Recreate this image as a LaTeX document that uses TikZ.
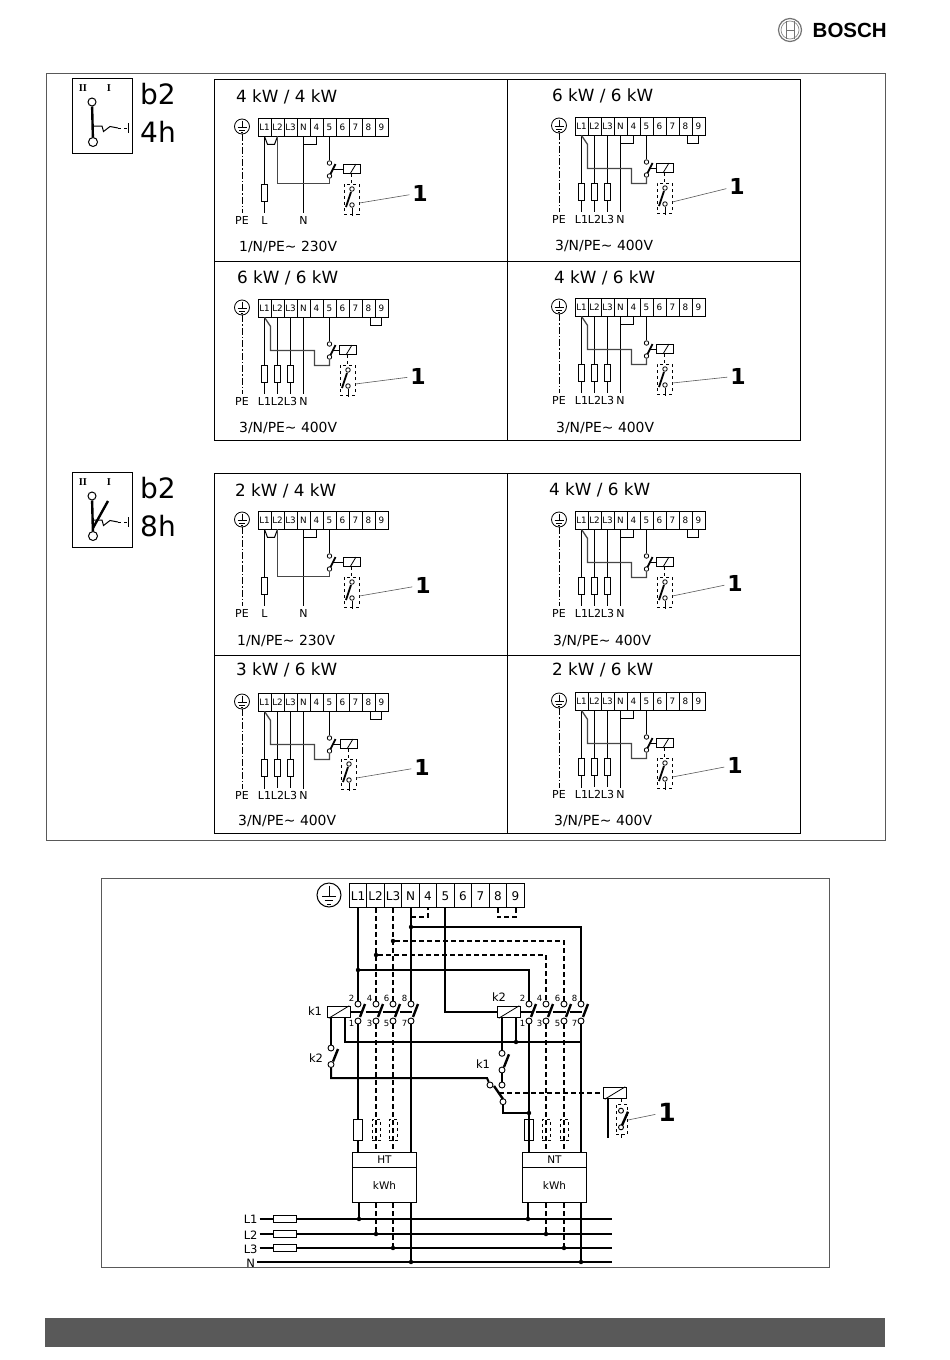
\documentclass[tikz,border=0pt]{standalone}
\usepackage{fontspec}
\setmainfont{DejaVu Sans}
\newfontfamily\logofont{Liberation Sans}
\newfontfamily\iconfont{Liberation Serif}
\usetikzlibrary{positioning}
\tikzset{wire/.style={line width=1pt,draw=black}}
\tikzset{feed/.style={line width=1.3pt,draw=black!72}}
\tikzset{blade/.style={line width=1.8pt,draw=black}}
\tikzset{leader/.style={line width=0.6pt,draw=black!65}}
\tikzset{frame/.style={line width=1pt,draw=black!65}}
\tikzset{earth/.style={circle,draw=black,fill=white,line width=0.8pt,inner sep=0pt,minimum size=15pt}}
\tikzset{terminal/.style={rectangle,draw=black,fill=white,line width=0.8pt,inner sep=0pt,text height=6.4pt,text depth=0pt,
minimum width=13pt,minimum height=18pt,font=\fontsize{8.8}{9}\selectfont}}
\tikzset{fuse/.style={rectangle,draw=black,fill=white,line width=0.8pt,inner sep=0pt,minimum width=6pt,minimum height=17pt}}
\tikzset{contact/.style={circle,draw=black,fill=white,line width=0.8pt,inner sep=0pt,minimum size=4.5pt}}
\tikzset{coil/.style={rectangle,draw=black,fill=white,line width=1pt,inner sep=0pt,minimum width=17pt,minimum height=9pt}}
\tikzset{switchbox/.style={rectangle,draw=black,dashed,line width=0.8pt,inner sep=0pt,minimum width=15pt,minimum height=30pt}}
\tikzset{dotnode/.style={circle,fill=black,inner sep=0pt,minimum size=4.4pt}}
\tikzset{tag/.style={inner sep=1pt,outer sep=2pt,font=\fontsize{11}{12}\selectfont}}
\tikzset{bigone/.style={inner sep=2pt,outer sep=1pt,font=\bfseries\fontsize{22}{24}\selectfont}}
\tikzset{paneltitle/.style={anchor=west,inner sep=0pt,font=\fontsize{16.8}{18}\selectfont}}
\tikzset{supply/.style={anchor=west,inner sep=0pt,font=\fontsize{13.9}{16}\selectfont}}
\tikzset{bigtext/.style={anchor=base west,inner sep=0pt,font=\fontsize{28}{30}\selectfont}}
\tikzset{pole/.style={inner sep=0pt,font=\iconfont\bfseries\fontsize{10.5}{11}\selectfont}}
\tikzset{bigwire/.style={line width=2pt,draw=black}}
\tikzset{dashwire/.style={line width=2pt,draw=black,dash pattern=on 5pt off 3pt}}
\tikzset{actionline/.style={line width=1.8pt,draw=black,dash pattern=on 10.7pt off 4pt on 12.6pt off 4pt on 13.3pt off 4pt on 12pt off 10pt}}
\tikzset{bigterminal/.style={rectangle,draw=black,fill=white,line width=0.8pt,inner sep=0pt,text height=8.8pt,text depth=0pt,
minimum width=17.5pt,minimum height=23.5pt,font=\fontsize{12}{13}\selectfont}}
\tikzset{bigcontact/.style={circle,draw=black,fill=white,line width=0.9pt,inner sep=0pt,minimum size=6pt}}
\tikzset{bigcoil/.style={rectangle,draw=black,fill=white,line width=0.9pt,inner sep=0pt,minimum width=23.5pt,minimum height=11.5pt}}
\tikzset{metfuse/.style={rectangle,draw=black,fill=white,line width=0.8pt,inner sep=0pt,minimum width=8.4pt,minimum height=21.5pt}}
\tikzset{metfusedash/.style={rectangle,draw=black,dashed,line width=0.7pt,inner sep=0pt,minimum width=8pt,minimum height=21.5pt}}
\tikzset{metfuseon/.style={rectangle,draw=black,line width=0.8pt,inner sep=0pt,minimum width=8.4pt,minimum height=21.5pt}}
\tikzset{busfuse/.style={rectangle,draw=black,fill=white,line width=0.8pt,inner sep=0pt,minimum width=23.4pt,minimum height=7.6pt}}
\tikzset{meterhead/.style={rectangle,draw=black,fill=white,line width=0.9pt,inner sep=0pt,minimum width=64.4pt,minimum height=15pt,font=\fontsize{10.5}{11}\selectfont}}
\tikzset{meterbody/.style={rectangle,draw=black,fill=white,line width=0.9pt,inner sep=0pt,minimum width=64.4pt,minimum height=35pt,font=\fontsize{10.5}{11}\selectfont}}
\tikzset{relaytag/.style={inner sep=0pt,font=\fontsize{11.5}{12}\selectfont}}
\tikzset{pin/.style={inner sep=0pt,font=\fontsize{8.5}{9}\selectfont}}
\tikzset{bustag/.style={inner sep=0pt,outer sep=2pt,font=\fontsize{11.5}{12}\selectfont}}

\newcommand\earthmark[2]{\begin{scope}[shift={(#1.center)},scale=#2]
\draw[line width=0.8pt] (0,-6) -- (0,1);
\draw[line width=0.8pt] (-4.5,1) -- (4.5,1) (-2.8,3.5) -- (2.8,3.5) (-1.2,6) -- (1.2,6);
\end{scope}}

\newcommand\panelbase[4]{%
\foreach \lab [count=\i] in {L1,L2,L3,N,4,5,6,7,8,9} \node[terminal] (#1t\i) at (\i*13-6.5,9) {\lab};
\node[earth] (#1pe) at (-16,8.5) {};
\earthmark{#1pe}{1}
\node[tag] (#1petag) at (-16,102.5) {PE};
\draw[line width=0.8pt,dash pattern=on 7pt off 2pt on 1.5pt off 2pt] (#1pe) -- (#1petag);
\node[contact] (#1ct) at (71.5,45) {};
\node[contact] (#1cb) at (71.5,58) {};
\draw[wire] (#1t6) -- (#1ct);
\draw[blade] ([xshift=1pt,yshift=2pt]#1cb.center) -- ([xshift=6pt,yshift=-1pt]#1ct.center);
\node[coil] (#1relay) at (#2,51) {};
\draw[wire,line width=0.8pt] ([xshift=-2pt]#1relay.south) -- ([xshift=4pt]#1relay.north);
\coordinate (#1arm) at (75,51);
\draw[wire] (#1arm) -- (#1relay);
\node[switchbox] (#1box) at (#2-0.5,81) {};
\node[contact] (#1cu) at (#2,71) {};
\node[contact] (#1cl) at (#2,87) {};
\draw[wire,dashed] (#1box.north |- #1relay.south) -- (#1box.north);
\draw[blade] ([xshift=-6pt,yshift=-2pt]#1cl.center) -- ([xshift=-1pt,yshift=-3pt]#1cu.center);
\draw[wire] (#1cl) -- ++(0,11);
\node[bigone] (#1one) at (#3,#4) {1};
\draw[leader] ([yshift=-4pt]#1box.east) -- (#1one);
}

\newcommand\onephase[6]{\begin{scope}[shift={(#2,#3)}]
\panelbase{#1}{#4}{#5}{#6}
\node[fuse] (#1fuse) at (6.5,75) {};
\node[tag] (#1ltag) at (6.5,102.5) {L};
\node[tag] (#1ntag) at (45.5,102.5) {N};
\draw[wire] (#1t1) -- (#1fuse) -- (#1ltag);
\draw[wire] (#1t4) -- (#1ntag);
\draw[wire] (#1t1.south) -- ++(3,8) -- ++(7,0) -- (#1t2.south);
\draw[feed] (#1t2.south) -- ++(0,47) -| (#1cb);
\end{scope}}

\newcommand\threephase[6]{\begin{scope}[shift={(#2,#3)}]
\panelbase{#1}{#4}{#5}{#6}
\foreach \tname/\col [count=\i] in {L1/6.5,L2/19.5,L3/32.5} {
\node[fuse] (#1f\i) at (\col,75) {};
\node[tag] (#1tag\i) at (\col,102.5) {\tname};
\draw[wire] (#1t\i) -- (#1f\i) -- (#1tag\i);
}
\node[tag] (#1ntag) at (45.5,102.5) {N};
\draw[wire] (#1t4) -- (#1ntag);
\draw[feed] (#1t1.south) -- ++(6,9) -- ++(0,24) -- ++(44,0) -- ++(0,15) -| (#1cb);
\end{scope}}

\newcommand\bridgeNfour[1]{\draw[wire] (#1t4.south) -- ++(0,8) -| (#1t5.south);}
\newcommand\bridgeeightnine[1]{\draw[wire] ([xshift=2pt]#1t9.south) -- ++(0,8) -| (#1t10.south);}

\newcommand\paneltable[2]{
\draw[wire] (214,#1) rectangle (800,#2);
\draw[wire] (507,#1) -- (507,#2);
}

\newcommand\switchicon[4]{\begin{scope}[shift={(#2,#3)}]
\node[draw,rectangle,line width=0.9pt,inner sep=0pt,minimum width=60pt,minimum height=75pt] (#1icon) at (30,37.5) {};
\node[pole] (#1two) at (11,10) {II};
\node[pole] (#1uno) at (37,10) {I};
\node[contact,minimum size=8pt,line width=1pt] (#1ctop) at (20,24) {};
\node[contact,minimum size=9pt,line width=1pt] (#1cbot) at (21,64) {};
\draw[blade,line width=2.4pt] (#1ctop) -- (#1cbot);
\coordinate (#1wave) at (22,48);
\coordinate (#1bar) at (56,50);
\draw[line width=1pt] (#1wave) -- ++(8,0) -- ++(1.5,5.5) -- ++(6.5,-5) -- ++(8,1.5);
\draw[line width=1pt,dashed] (46,50) -- (#1bar);
\draw[line width=1pt] ([yshift=5pt]#1bar) -- ([yshift=-5pt]#1bar);
\node[bigtext] (#1btwo) at (68,26.5) {b2};
\node[bigtext] (#1time) at (68,64.5) {#4};
\end{scope}}

\newcommand\contactgroup[2]{
\foreach \col/\up/\lo [count=\i] in {#2} {
\node[bigcontact] (#1top\i) at (\col,1004) {};
\node[bigcontact] (#1bot\i) at (\col,1021) {};
\node[pin] (#1up\i) at (\col-6.5,998) {\up};
\node[pin] (#1lo\i) at (\col-6.5,1023.5) {\lo};
\draw[blade,line width=2.4pt] ([xshift=2pt,yshift=4pt]#1bot\i.center) -- ([xshift=7pt,yshift=0pt]#1top\i.center);
}}

\begin{document}
\begin{tikzpicture}[x=1pt,y=-1pt]
\useasboundingbox (0,0) rectangle (950,1360);

\node[circle,draw=black!55,line width=1.2pt,inner sep=0pt,minimum size=23pt] (logo) at (790,30) {};
\node[circle,draw=black!45,line width=0.7pt,inner sep=0pt,minimum size=18pt] (logoin) at (790,30) {};
\draw[line width=0.9pt,black!55] (786,21) -- (786,39) (794,21) -- (794,39) (786,30) -- (794,30);
\node[anchor=west,inner sep=0pt,font=\logofont\bfseries\fontsize{20.5}{22}\selectfont] (brand) at (812.5,30) {BOSCH};

\draw[frame] (46,73) rectangle (885,840);
\draw[frame] (101,878) rectangle (829,1267);
\fill[black!65] (45,1318) rectangle (885,1347);

\switchicon{f}{72}{78}{4h}
\switchicon{e}{72}{472}{8h}
\draw[blade,line width=2.4pt] (93,528) -- (108,501);

\paneltable{79}{440}
\draw[wire] (214,261) -- (800,261);
\paneltable{473}{833}
\draw[wire] (214,655) -- (800,655);

\onephase{a}{258}{118}{94}{162}{75}
\bridgeNfour{a}
\node[paneltitle] (atitle) at (236,97) {4 kW / 4 kW};
\node[supply] (asupply) at (239,247) {1/N/PE\char"223C\ 230V};

\threephase{b}{575}{117}{90}{162}{69}
\bridgeNfour{b}
\bridgeeightnine{b}
\node[paneltitle] (btitle) at (552,96) {6 kW / 6 kW};
\node[supply] (bsupply) at (555,246) {3/N/PE\char"223C\ 400V};

\threephase{c}{258}{299}{90}{160}{77}
\bridgeeightnine{c}
\node[paneltitle] (ctitle) at (237,278) {6 kW / 6 kW};
\node[supply] (csupply) at (239,428) {3/N/PE\char"223C\ 400V};

\threephase{d}{575}{298}{90}{163}{78}
\bridgeNfour{d}
\node[paneltitle] (dtitle) at (554,278) {4 kW / 6 kW};
\node[supply] (dsupply) at (556,428) {3/N/PE\char"223C\ 400V};

\onephase{e}{258}{511}{94}{165}{74}
\bridgeNfour{e}
\node[paneltitle] (etitle) at (235,491) {2 kW / 4 kW};
\node[supply] (esupply) at (237,641) {1/N/PE\char"223C\ 230V};

\threephase{g}{575}{511}{90}{160}{72}
\bridgeNfour{g}
\bridgeeightnine{g}
\node[paneltitle] (gtitle) at (549,490) {4 kW / 6 kW};
\node[supply] (gsupply) at (553,641) {3/N/PE\char"223C\ 400V};

\threephase{h}{258}{693}{91}{164}{74}
\bridgeeightnine{h}
\node[paneltitle] (htitle) at (236,670) {3 kW / 6 kW};
\node[supply] (hsupply) at (238,821) {3/N/PE\char"223C\ 400V};

\threephase{j}{575}{692}{90}{160}{73}
\bridgeNfour{j}
\node[paneltitle] (jtitle) at (552,670) {2 kW / 6 kW};
\node[supply] (jsupply) at (554,821) {3/N/PE\char"223C\ 400V};

\node[earth,minimum size=24pt,line width=1pt] (mpe) at (329,895) {};
\earthmark{mpe}{1.55}
\foreach \lab [count=\i] in {L1,L2,L3,N,4,5,6,7,8,9} \node[bigterminal] (mt\i) at (340.5+\i*17.5,895.6) {\lab};

\contactgroup{ka}{358/2/1,376/4/3,393/6/5,411/8/7}
\contactgroup{kb}{529/2/1,546/4/3,564/6/5,581/8/7}

\node[bigcoil] (karelay) at (339,1012) {};
\node[bigcoil] (kbrelay) at (509,1012) {};
\draw[wire,line width=0.8pt] ([xshift=2pt]karelay.south west) -- ([xshift=-2pt]karelay.north east);
\draw[wire,line width=0.8pt] ([xshift=2pt]kbrelay.south west) -- ([xshift=-2pt]kbrelay.north east);
\node[relaytag] (katag) at (315,1011) {k1};
\node[relaytag] (kbtag) at (499,997) {k2};
\draw[actionline] (karelay.east) -- ++(62,0);
\draw[actionline] (kbrelay.east) -- ++(62,0);

\node[dotnode] (jn) at (411,927) {};
\node[dotnode] (jlthree) at (393,941) {};
\node[dotnode] (jltwo) at (376,955) {};
\node[dotnode] (jlone) at (358,970) {};
\draw[bigwire] (katop1 |- mt1.south) -- (katop1);
\draw[dashwire] (katop2 |- mt2.south) -- (katop2);
\draw[dashwire] (katop3 |- mt3.south) -- (katop3);
\draw[bigwire] (katop4 |- mt4.south) -- (katop4);
\draw[bigwire] ([xshift=-0.5pt]mt6.south) |- (kbrelay);
\draw[dashwire] (katop4 |- mt4.south) ++(0,9.65) -| (mt5.south);
\draw[dashwire] (mt9.south) -- ++(0,9.65) -| (mt10.south);
\draw[bigwire] (jn) -| (kbtop4);
\draw[dashwire] (jlthree) -| (kbtop3);
\draw[dashwire] (jltwo) -| (kbtop2);
\draw[bigwire] (jlone) -| (kbtop1);

\node[bigcontact] (ktwotop) at (331,1048) {};
\node[bigcontact] (ktwobot) at (331,1064.5) {};
\node[relaytag] (ktwotag) at (316,1058) {k2};
\draw[blade,line width=2.4pt] ([xshift=2pt,yshift=3pt]ktwobot.center) -- ([xshift=7pt,yshift=-1pt]ktwotop.center);
\node[bigcontact] (konetop) at (502,1053.3) {};
\node[bigcontact] (konebot) at (502,1070) {};
\node[relaytag] (konetag) at (483,1064) {k1};
\draw[blade,line width=2.4pt] ([xshift=2pt,yshift=3pt]konebot.center) -- ([xshift=7pt,yshift=-1pt]konetop.center);
\node[bigcontact] (chleft) at (490,1085) {};
\node[bigcontact] (chright) at (502,1085) {};
\node[bigcontact] (chlow) at (503,1101.7) {};
\draw[blade,line width=2.4pt] (494,1086) -- (503,1099);
\node[dotnode] (jrelay) at (516,1042) {};
\node[dotnode] (jchange) at (529,1113) {};

\draw[bigwire] (ktwotop |- karelay.south) -- (ktwotop);
\draw[bigwire] ([xshift=6pt]karelay.south) |- (kbbot4 |- jrelay);
\draw[bigwire] (konetop |- kbrelay.south) -- (konetop);
\draw[bigwire] (jrelay |- kbrelay.south) -- (jrelay);
\draw[bigwire] (ktwobot) |- ([xshift=-3pt,yshift=7pt]chleft.center) -- (chleft);
\draw[bigwire] (konebot) -- (chright);
\draw[bigwire] (chlow) |- (jchange);

\node[bigcoil] (clockrelay) at (615,1093) {};
\draw[wire,line width=0.8pt] ([xshift=2pt]clockrelay.south west) -- ([xshift=-2pt]clockrelay.north east);
\coordinate (changemid) at (499,1093);
\draw[dashwire] (changemid) -- (clockrelay);
\coordinate (clockbar) at (608,1138);
\draw[bigwire] (clockbar |- clockrelay.south) -- (clockbar);
\node[switchbox,minimum width=11.5pt] (clockbox) at (621.8,1119) {};
\node[bigcontact,minimum size=5pt] (clocktop) at (621,1110.7) {};
\node[bigcontact,minimum size=5pt] (clockbot) at (621,1127.3) {};
\draw[wire,dashed] (clockbox.north |- clockrelay.south) -- (clockbox.north);
\draw[blade,line width=2.4pt] ([xshift=1pt,yshift=2pt]clockbot.center) -- ([xshift=7pt,yshift=-1pt]clocktop.center);
\draw[wire] (clockbox.south) -- ++(0,4);
\node[bigone,font=\bfseries\fontsize{25}{26}\selectfont] (clockone) at (667,1112) {1};
\draw[leader] ([yshift=-1pt]clockbox.east) -- (clockone);

\node[metfuse] (haf) at (358,1130) {};
\node[metfusedash] (hbf) at (376,1130) {};
\node[metfusedash] (hcf) at (393,1130) {};
\node[metfuseon] (naf) at (529,1130) {};
\node[metfusedash] (nbf) at (546,1130) {};
\node[metfusedash] (ncf) at (564,1130) {};
\node[meterhead] (hthead) at (384.5,1159.8) {HT};
\node[meterbody,below=-0.4pt of hthead] (htbody) {kWh};
\node[meterhead] (nthead) at (554.5,1159.8) {NT};
\node[meterbody,below=-0.4pt of nthead] (ntbody) {kWh};

\draw[bigwire] (kabot1) -- (haf) -- (haf |- hthead.north);
\draw[dashwire] (kabot2) -- (kabot2 |- hthead.north);
\draw[dashwire] (kabot3) -- (kabot3 |- hthead.north);
\draw[bigwire] (kabot4) -- (kabot4 |- hthead.north);
\draw[bigwire] (kbbot1) -- (kbbot1 |- nthead.north);
\draw[dashwire] (kbbot2) -- (kbbot2 |- nthead.north);
\draw[dashwire] (kbbot3) -- (kbbot3 |- nthead.north);
\draw[bigwire] (kbbot4) -- (kbbot4 |- nthead.north);

\node[bustag] (lone) at (250.7,1219) {L1};
\node[bustag] (ltwo) at (250.7,1235) {L2};
\node[bustag] (lthree) at (250.7,1249.5) {L3};
\node[bustag] (lnull) at (250.7,1263) {N};
\node[busfuse] (fone) at (285,1219) {};
\node[busfuse] (ftwo) at (285,1234) {};
\node[busfuse] (fthree) at (285,1248) {};
\coordinate (eone) at (612,1219);
\coordinate (etwo) at (612,1234);
\coordinate (ethree) at (612,1248);
\coordinate (enull) at (612,1262);
\draw[bigwire] (lone.east |- fone) -- (fone) -- (eone);
\draw[bigwire] (ltwo.east |- ftwo) -- (ftwo) -- (etwo);
\draw[bigwire] (lthree.east |- fthree) -- (fthree) -- (ethree);
\draw[bigwire] (lnull.east |- enull) -- (enull);

\node[dotnode] (hone) at (359,1219) {};
\node[dotnode] (htwo) at (376,1234) {};
\node[dotnode] (hthree) at (393,1248) {};
\node[dotnode] (hnull) at (411,1262) {};
\node[dotnode] (none) at (528,1219) {};
\node[dotnode] (ntwo) at (546,1234) {};
\node[dotnode] (nthree) at (564,1248) {};
\node[dotnode] (nnull) at (581,1262) {};
\draw[bigwire] (hone |- htbody.south) -- (hone);
\draw[dashwire] (htwo |- htbody.south) -- (htwo);
\draw[dashwire] (hthree |- htbody.south) -- (hthree);
\draw[bigwire] (hnull |- htbody.south) -- (hnull);
\draw[bigwire] (none |- ntbody.south) -- (none);
\draw[dashwire] (ntwo |- ntbody.south) -- (ntwo);
\draw[dashwire] (nthree |- ntbody.south) -- (nthree);
\draw[bigwire] (nnull |- ntbody.south) -- (nnull);
\end{tikzpicture}
\end{document}
